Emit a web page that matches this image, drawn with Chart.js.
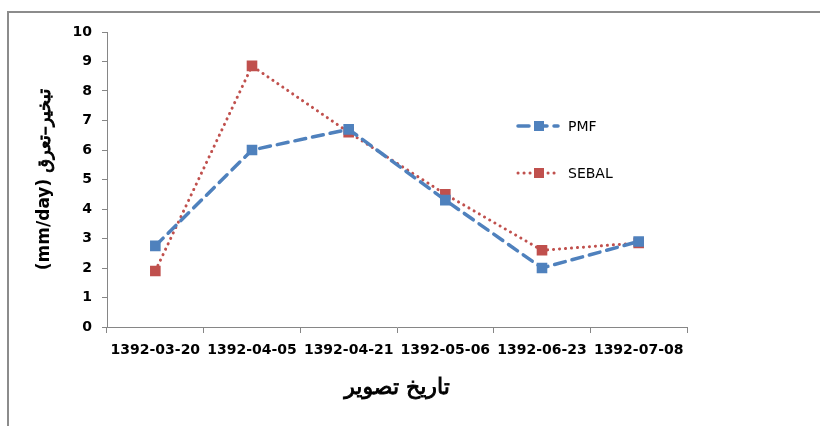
<!DOCTYPE html>
<html>
<head>
<meta charset="utf-8">
<script src="https://cdn.jsdelivr.net/npm/chart.js@4.4.1/dist/chart.umd.min.js"></script>
<style>
  html, body { margin: 0; padding: 0; background: #fff; }
  #wrap { position: relative; width: 820px; height: 426px; overflow: hidden; }
  #frame { position: absolute; left: 7px; top: 11px; width: 900px; height: 500px;
           border-left: 2px solid #8c8c8c; border-top: 2px solid #8c8c8c; }
  #chart { position: absolute; left: 0; top: 0; }
</style>
</head>
<body>
<div id="wrap">
  <div id="frame"></div>
  <canvas id="chart" width="820" height="426"></canvas>
</div>
<script>
// dates (Persian calendar)
const labels = ['1392-03-20', '1392-04-05', '1392-04-21', '1392-05-06', '1392-06-23', '1392-07-08'];
const pmf = [2.75, 6.0, 6.7, 4.3, 2.0, 2.9];
const sebal = [1.9, 8.85, 6.6, 4.5, 2.6, 2.85];
const yTicks = [0, 1, 2, 3, 4, 5, 6, 7, 8, 9, 10];

const xTitle = 'تاریخ تصویر';
const yTitleUnit = '(mm/day)';
const yTitleWord = 'تبخیر–تعرق';

const blue = '#4f81bd';
const red = '#c0504d';
const axisGray = '#868686';
const fontFamily = '"DejaVu Sans", sans-serif';

// the bold DejaVu face has no arabic joining, so persian text uses the
// regular face with a thin stroke on top to look bold
function boldText(ctx, text, x, y) {
    ctx.fillText(text, x, y);
    ctx.lineWidth = 0.9;
    ctx.strokeStyle = ctx.fillStyle;
    ctx.strokeText(text, x, y);
}

// legend drawn by hand, Excel style (line + marker + name)
const legendPlugin = {
    id: 'sideLegend',
    afterDraw(chart) {
        const ctx = chart.ctx;
        const items = [
            { y: 126, ds: chart.data.datasets[0] },
            { y: 173, ds: chart.data.datasets[1] }
        ];
        items.forEach(it => {
            ctx.save();
            ctx.strokeStyle = it.ds.borderColor;
            ctx.lineWidth = it.ds.borderWidth;
            ctx.lineCap = it.ds.borderCapStyle;
            ctx.setLineDash(it.ds.borderDash);
            ctx.beginPath();
            ctx.moveTo(518, it.y);
            ctx.lineTo(558, it.y);
            ctx.stroke();
            ctx.setLineDash([]);
            ctx.fillStyle = it.ds.pointBackgroundColor;
            ctx.fillRect(534, it.y - 5, 10, 10);
            ctx.fillStyle = '#000';
            ctx.font = '14px ' + fontFamily;
            ctx.textBaseline = 'middle';
            ctx.textAlign = 'left';
            ctx.fillText(it.ds.label, 568, it.y + 1);
            ctx.restore();
        });
    }
};

const titlesPlugin = {
    id: 'axisTitles',
    afterDraw(chart) {
        const ctx = chart.ctx;
        const area = chart.chartArea;
        ctx.save();
        ctx.fillStyle = '#000';
        ctx.textBaseline = 'middle';

        // x title
        ctx.font = '22px ' + fontFamily;
        ctx.textAlign = 'center';
        boldText(ctx, xTitle, (area.left + area.right) / 2, 388);

        // y title, rotated
        const fUnit = 'bold 17px ' + fontFamily;
        const fWord = '18px ' + fontFamily;
        ctx.font = fUnit;
        const wU = ctx.measureText(yTitleUnit + ' ').width;
        ctx.font = fWord;
        const wW = ctx.measureText(yTitleWord).width;
        ctx.translate(45, (area.top + area.bottom) / 2);
        ctx.rotate(-Math.PI / 2);
        ctx.textAlign = 'left';
        const x0 = -(wU + wW) / 2;
        ctx.font = fUnit;
        ctx.fillText(yTitleUnit, x0, 0);
        ctx.font = fWord;
        boldText(ctx, yTitleWord, x0 + wU, 0);
        ctx.restore();
    }
};

new Chart(document.getElementById('chart'), {
    type: 'line',
    data: {
        labels: labels,
        datasets: [{
            label: 'PMF',
            data: pmf,
            borderColor: blue,
            backgroundColor: blue,
            pointBackgroundColor: blue,
            pointBorderColor: blue,
            pointBorderWidth: 0,
            borderWidth: 3.5,
            borderDash: [11, 7],
            borderCapStyle: 'round',
            pointStyle: 'rect',
            pointRadius: 7.5,
            tension: 0
        }, {
            label: 'SEBAL',
            data: sebal,
            borderColor: red,
            backgroundColor: red,
            pointBackgroundColor: red,
            pointBorderColor: red,
            pointBorderWidth: 0,
            borderWidth: 3,
            borderDash: [0.1, 5.9],
            borderCapStyle: 'round',
            pointStyle: 'rect',
            pointRadius: 7.5,
            tension: 0
        }]
    },
    options: {
        responsive: false,
        animation: false,
        layout: { padding: { left: 0, top: 32, right: 133, bottom: 0 } },
        plugins: {
            legend: { display: false },
            tooltip: { enabled: false }
        },
        scales: {
            x: {
                offset: true,
                grid: { offset: true, drawOnChartArea: false, color: axisGray, tickLength: 6 },
                border: { color: axisGray, width: 1 },
                ticks: { color: '#000', padding: 9, maxRotation: 0, font: { family: fontFamily, size: 14, weight: 'bold' } },
                afterFit(scale) { scale.height = 99; }
            },
            y: {
                min: 0,
                max: 10,
                afterBuildTicks(scale) { scale.ticks = yTicks.map(v => ({ value: v })); },
                grid: { drawOnChartArea: false, color: axisGray, tickLength: 5 },
                border: { color: axisGray, width: 1 },
                ticks: { color: '#000', padding: 10, font: { family: fontFamily, size: 14, weight: 'bold' } },
                afterFit(scale) { scale.width = 107; }
            }
        }
    },
    plugins: [legendPlugin, titlesPlugin]
});
</script>
</body>
</html>
